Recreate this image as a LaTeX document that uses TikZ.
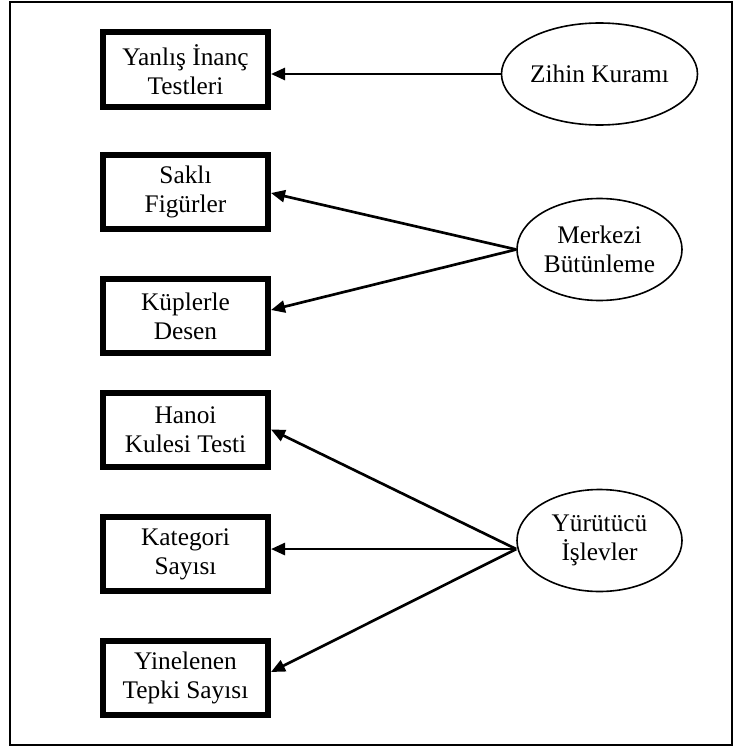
\documentclass[tikz,border=0pt]{standalone}
\usepackage{fontspec}
\setmainfont{Liberation Serif}
\usetikzlibrary{arrows.meta,shapes.geometric}
\begin{document}
\begin{tikzpicture}[x=0.75pt,y=-0.75pt,
  txt/.style={align=center, font=\fontsize{19pt}{21.75pt}\selectfont},
  measure/.style={txt, draw, line width=4.5pt, minimum width=123.75pt,
    minimum height=55.5pt, inner sep=0pt},
  construct/.style={txt, draw, ellipse, line width=1.2pt, minimum width=123.75pt,
    minimum height=76.5pt, inner sep=0pt},
  link/.style={line width=2pt, -{Triangle[length=10.5pt,width=9pt]}}]
\useasboundingbox (0,0) rectangle (733,749);
\draw[line width=1.5pt] (10,2) rectangle (731.5,745);

% observed measures
\node[measure] (b1) at (185.5,69.5) {Yanlış İnanç\\Testleri};
\node[measure] (b2) at (185.5,192) {Saklı\\Figürler};
\node[measure] (b3) at (185.5,316) {Küplerle\\Desen};
\node[measure] (b4) at (185.5,429.5) {Hanoi\\Kulesi Testi};
\node[measure] (b5) at (185.5,554) {Kategori\\Sayısı};
\node[measure] (b6) at (185.5,678) {Yinelenen\\Tepki Sayısı};

% latent constructs
\node[construct] (zk) at (599.5,74) {Zihin Kuramı};
\node[construct] (mb) at (599.5,249.5) {Merkezi\\Bütünleme};
\node[construct] (yi) at (599.5,540.5) {Yürütücü\\İşlevler};

\coordinate (yiw) at ([yshift=-6.4pt]yi.west);

% paths
\draw[link] (zk.west) -- (b1.east |- zk.west);
\draw[link] (mb.west) -- ([yshift=-0.75pt]b2.east);
\draw[link] (mb.west) -- ([yshift=4.5pt]b3.east);
\draw[link] (yiw) -- (b4.east);
\draw[link] (yiw) -- (b5.east |- yiw);
\draw[link] (yiw) -- ([yshift=4.5pt]b6.east);
\end{tikzpicture}
\end{document}
